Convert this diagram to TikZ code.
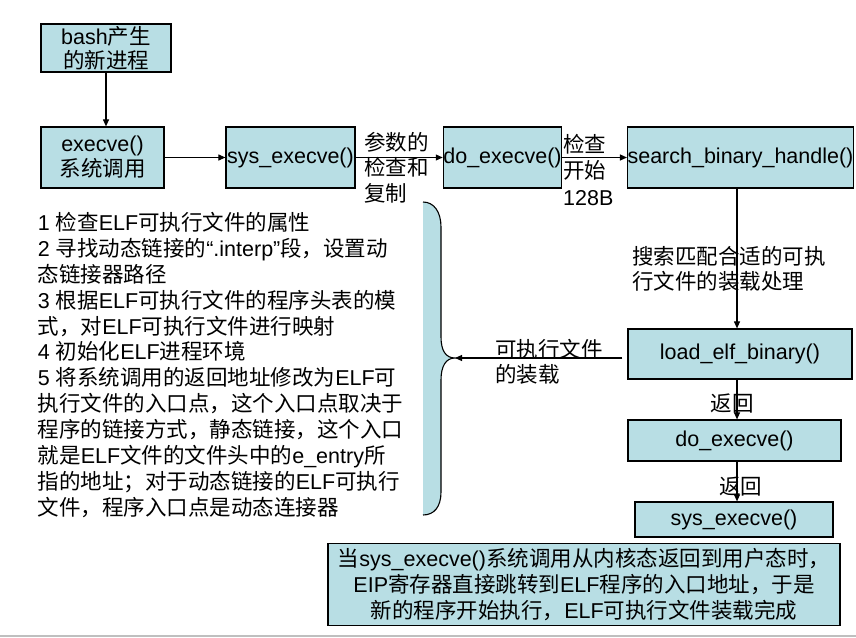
\documentclass[tikz,border=0pt]{standalone}
\usepackage{fontspec}
\setmainfont{Liberation Sans}
\newfontfamily\latinfont{Liberation Sans}
\newfontfamily\cjkfont{Noto Sans CJK SC}
\usepackage{xcolor}
\definecolor{tealbox}{RGB}{184, 222, 228}
\usetikzlibrary{arrows.meta, positioning}

% switch to the CJK font for Chinese characters
\XeTeXinterchartokenstate=1
\chardef\cjkcls=10
\newcount\cjkcode
\cjkcode="3000
\loop \XeTeXcharclass\cjkcode=\cjkcls \advance\cjkcode by 1 \ifnum\cjkcode<"A000 \repeat
\cjkcode="FF00
\loop \XeTeXcharclass\cjkcode=\cjkcls \advance\cjkcode by 1 \ifnum\cjkcode<"FFF0 \repeat
\XeTeXcharclass"201C=0
\XeTeXcharclass"201D=0
\XeTeXinterchartoks 0 \cjkcls = {\cjkfont}
\XeTeXinterchartoks 4095 \cjkcls = {\cjkfont}
\XeTeXinterchartoks \cjkcls 0 = {\latinfont}
\XeTeXinterchartoks \cjkcls 4095 = {\latinfont}

\begin{document}
\begin{tikzpicture}[x=1pt, y=-1pt,
		every node/.style={font=\fontsize{21.5}{26}\selectfont, inner sep=0pt},
		box/.style={draw, fill=tealbox, line width=1.2pt, align=center},
		lbl/.style={anchor=north west, align=left},
		arr/.style={line width=1.1pt, -{Triangle[length=7pt, width=6pt]}},
		]
		\useasboundingbox (0,0) rectangle (856,637);
		% top row
		\node[box, minimum width=130pt, minimum height=48pt, font=\fontsize{21.5}{24}\selectfont] (bash) at (106,48) {bash产生\\的新进程};
		\node[box, minimum width=123pt, minimum height=61pt, font=\fontsize{21.5}{25}\selectfont] (execve) at (102.5,157.5) {execve()\\系统调用};
		\node[box, minimum width=129pt, minimum height=61pt] (sys) at (290.5,157.5) {sys\_execve()};
		\node[box, minimum width=117pt, minimum height=61pt] (do) at (502.5,157.5) {do\_execve()};
		\node[box, minimum width=225pt, minimum height=61pt] (search) at (740.5,157.5) {search\_binary\_handle()};
		% right column
		\node[box, minimum width=224pt, minimum height=50pt] (load) at (740,354) {load\_elf\_binary()};
		\node[box, minimum width=213pt, minimum height=41pt] (doret) at (734.5,440.5) {do\_execve()};
		\node[box, minimum width=198pt, minimum height=35pt] (sysret) at (734,519.5) {sys\_execve()};
		\node[box, minimum width=512pt, minimum height=82pt] (done) at (584,584.5)
			{当sys\_execve()系统调用从内核态返回到用户态时，\\EIP寄存器直接跳转到ELF程序的入口地址，于是\\新的程序开始执行，ELF可执行文件装载完成};
		% labels
		\node[lbl, font=\fontsize{21.5}{25.5}\selectfont] (paramlbl) at (364,132) {参数的\\检查和\\复制};
		\node[lbl, font=\fontsize{21.5}{26.5}\selectfont] (checklbl) at (563,134) {检查\\开始\\128B};
		\node[lbl, font=\fontsize{21.5}{25}\selectfont] (searchlbl) at (632,246) {搜索匹配合适的可执\\行文件的装载处理};
		\node[lbl, font=\fontsize{21.5}{25}\selectfont] (loadlbl) at (495,339) {可执行文件\\的装载};
		\node (ret1) at (732,403) {返回};
		\node (ret2) at (740.5,486) {返回};
		\node[lbl, font=\fontsize{21.5}{25.9}\selectfont] (steps) at (37.7,212) {1 检查ELF可执行文件的属性\\
			2 寻找动态链接的“.interp”段，设置动\\
			态链接器路径\\
			3 根据ELF可执行文件的程序头表的模\\
			式，对ELF可执行文件进行映射\\
			4 初始化ELF进程环境\\
			5 将系统调用的返回地址修改为ELF可\\
			执行文件的入口点，这个入口点取决于\\
			程序的链接方式，静态链接，这个入口\\
			就是ELF文件的文件头中的e\_entry所\\
			指的地址；对于动态链接的ELF可执行\\
			文件，程序入口点是动态连接器};
		% brace
		\coordinate (tip) at (455,358);
		\coordinate (spine) at (737,0);
		\fill[tealbox] (423,202) .. controls (434,202) and (441,212) .. (441,227) -- (441,337)
			.. controls (441,351) and (446,358) .. (tip) .. controls (446,358) and (441,366) .. (441,380)
			-- (441,492) .. controls (441,507) and (434,515) .. (423,515) -- cycle;
		\draw[line width=1.1pt] (423,202) .. controls (434,202) and (441,212) .. (441,227) -- (441,337)
			.. controls (441,351) and (446,358) .. (tip) .. controls (446,358) and (441,366) .. (441,380)
			-- (441,492) .. controls (441,507) and (434,515) .. (423,515);
		% connectors
		\draw[arr] (bash.south) -- (bash.south |- execve.north);
		\draw[arr] (execve.east) -- (sys.west);
		\draw[arr] (sys.east) -- (do.west);
		\draw[arr] (do.east) -- (search.west);
		\draw[arr] (search.south -| spine) -- (load.north -| spine);
		\draw[arr, shorten <=5pt] (load.west |- tip) -- (tip);
		\draw[arr] (load.south -| spine) -- (doret.north -| spine);
		\draw[arr] (doret.south -| spine) -- (sysret.north -| spine);
		\draw[black!25, line width=1.5pt] (0,636) -- (856,636);
\end{tikzpicture}
\end{document}
